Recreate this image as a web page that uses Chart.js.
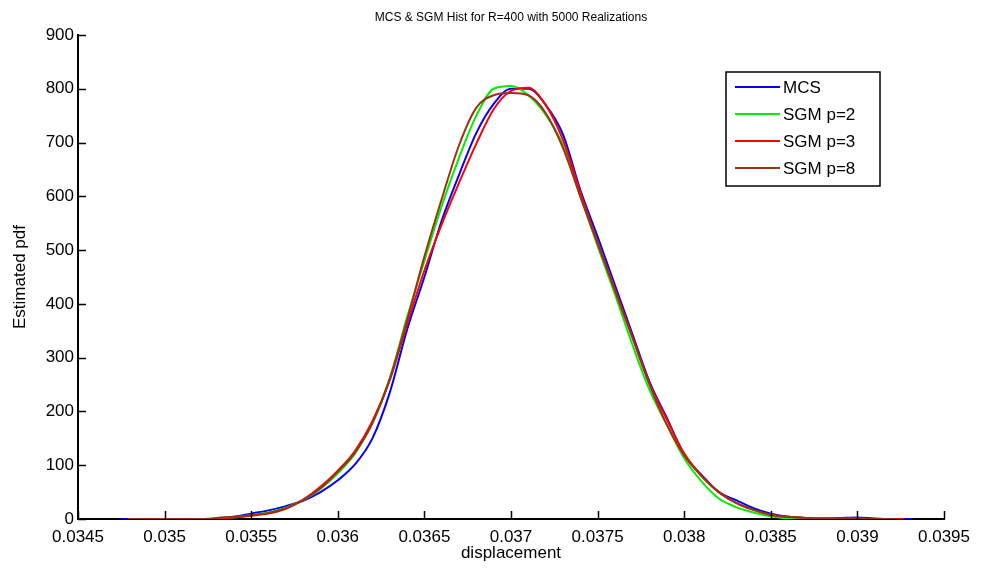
<!DOCTYPE html>
<html>
<head>
<meta charset="utf-8">
<script src="https://cdn.jsdelivr.net/npm/chart.js@4/dist/chart.umd.min.js"></script>
<style>
  html, body { margin: 0; padding: 0; background: #fff; }
  #wrap { width: 982px; height: 574px; }
</style>
</head>
<body>
<div id="wrap"><canvas id="pdfChart" width="982" height="574"></canvas></div>
<script>
// displacement grid (shared by all curves)
const displacement = [
  0.03475, 0.03479, 0.0350, 0.0352, 0.03527,
  0.0353, 0.0354, 0.0355, 0.0356, 0.0357, 0.0358, 0.0359, 0.0360, 0.0361, 0.0362,
  0.0363, 0.0364, 0.0365, 0.0366, 0.0367, 0.0368, 0.0369, 0.0370, 0.0371, 0.0372,
  0.0373, 0.0374, 0.0375, 0.0376, 0.0377, 0.0378, 0.0379, 0.0380, 0.0381, 0.0382,
  0.0383, 0.0384, 0.0385, 0.0386, 0.0387, 0.0388, 0.0389, 0.0390, 0.0391, 0.0392,
  0.03923, 0.03927, 0.03932
];

// estimated pdf per method (null = curve not drawn there)
const mcs = [
  0, 0, 0, 0, 0,
  1, 4, 10, 16, 24, 34, 50, 72, 102, 150,
  235, 352, 450, 555, 640, 718, 772, 800, 800, 770,
  715, 612, 525, 435, 345, 255, 188, 120, 82, 50,
  35, 20, 10, 4, 2, 1, 2, 3, 1, 0,
  0, 0, 0
];
const sgm2 = [
  null, null, null, null, null,
  0, 3, 7, 12, 21, 35, 56, 85, 122, 180,
  262, 375, 480, 582, 672, 750, 800, 805, 788, 752,
  695, 600, 508, 418, 325, 240, 175, 113, 70, 38,
  22, 12, 5, 1, 0, null, null, null, null, null,
  null, null, null
];
const sgm3 = [
  null, null, null, null, 0,
  1, 3, 6, 10, 19, 36, 60, 90, 127, 182,
  258, 362, 462, 548, 625, 698, 762, 796, 802, 770,
  705, 608, 515, 428, 340, 252, 185, 122, 80, 50,
  30, 17, 8, 4, 2, 1, 1, 1, 0, 0,
  0, 0, null
];
const sgm8 = [
  null, 0, 0, 0, 1,
  2, 4, 7, 11, 20, 35, 57, 88, 124, 178,
  260, 370, 488, 595, 695, 765, 788, 792, 788, 755,
  690, 600, 512, 425, 338, 250, 175, 118, 80, 50,
  30, 17, 8, 4, 2, 1, 1, 1, 0, 0,
  0, null, null
];

const xTicks = [0.0345, 0.035, 0.0355, 0.036, 0.0365, 0.037, 0.0375, 0.038, 0.0385, 0.039, 0.0395];
const yTicks = [0, 100, 200, 300, 400, 500, 600, 700, 800, 900];

const toPoints = (ys) => displacement
  .map((x, i) => ({ x: x, y: ys[i] }))
  .filter(p => p.y !== null);

const FONT = "'Liberation Sans', Arial, sans-serif";

// inward tick marks like the original figure
const innerTicks = {
  id: "innerTicks",
  afterDraw(chart) {
    const c = chart.ctx;
    const xs = chart.scales.x, ys = chart.scales.y;
    const area = chart.chartArea;
    c.save();
    c.strokeStyle = "#000";
    c.lineWidth = 1.5;
    c.beginPath();
    xTicks.forEach(v => {
      const px = Math.round(xs.getPixelForValue(v)) + 0.5;
      c.moveTo(px, area.bottom);
      c.lineTo(px, area.bottom - 8);
    });
    yTicks.forEach(v => {
      const py = Math.round(ys.getPixelForValue(v)) + 0.5;
      c.moveTo(area.left, py);
      c.lineTo(area.left + 8, py);
    });
    c.stroke();
    c.restore();
  }
};

// boxed legend inside the plot, top right
const boxLegend = {
  id: "boxLegend",
  afterDraw(chart) {
    const c = chart.ctx;
    const left = 726, top = 72, w = 154, h = 114;
    c.save();
    c.fillStyle = "#fff";
    c.fillRect(left, top, w, h);
    c.strokeStyle = "#000";
    c.lineWidth = 1.5;
    c.strokeRect(left, top, w, h);
    c.font = "17px " + FONT;
    c.textBaseline = "middle";
    c.fillStyle = "#000";
    chart.data.datasets.forEach((ds, i) => {
      const y = top + 15 + i * 27;
      c.strokeStyle = ds.borderColor;
      c.lineWidth = 2;
      c.beginPath();
      c.moveTo(left + 9, y);
      c.lineTo(left + 54, y);
      c.stroke();
      c.fillText(ds.label, left + 57, y + 1);
    });
    c.restore();
  }
};

const ctx = document.getElementById("pdfChart").getContext("2d");
const pdfChart = new Chart(ctx, {
  type: "line",
  data: {
    datasets: [
      { label: "MCS", data: toPoints(mcs), borderColor: "#0000ff", order: 3 },
      { label: "SGM p=2", data: toPoints(sgm2), borderColor: "#00ee00", order: 2 },
      { label: "SGM p=3", data: toPoints(sgm3), borderColor: "#ff0000", order: 1 },
      { label: "SGM p=8", data: toPoints(sgm8), borderColor: "#993311", order: 0 }
    ]
  },
  options: {
    responsive: false,
    animation: false,
    devicePixelRatio: 1,
    layout: { padding: { left: 0, right: 38, top: 0, bottom: 0 } },
    elements: {
      point: { radius: 0 },
      line: { borderWidth: 2, fill: false, cubicInterpolationMode: "monotone" }
    },
    plugins: {
      legend: { display: false },
      tooltip: { enabled: false },
      title: {
        display: true,
        text: "MCS & SGM Hist for R=400 with 5000 Realizations",
        fullSize: false,
        color: "#000",
        font: { family: FONT, size: 12, weight: "normal", lineHeight: 1.2 },
        padding: { top: 10, bottom: 10.6 }
      }
    },
    scales: {
      x: {
        type: "linear",
        min: 0.0345,
        max: 0.0395,
        afterFit(scale) { scale.height = 55; },
        afterBuildTicks(scale) { scale.ticks = xTicks.map(v => ({ value: v })); },
        grid: { display: false, drawOnChartArea: false, drawTicks: false },
        border: { display: true, color: "#000", width: 2 },
        ticks: {
          color: "#000",
          padding: 8,
          maxRotation: 0,
          autoSkip: false,
          font: { family: FONT, size: 17 },
          callback: (v) => String(parseFloat(Number(v).toFixed(4)))
        },
        title: {
          display: true,
          text: "displacement",
          color: "#000",
          font: { family: FONT, size: 17 },
          padding: { top: 0, bottom: 10 }
        }
      },
      y: {
        min: 0,
        max: 900,
        afterFit(scale) { scale.width = 78; },
        afterBuildTicks(scale) { scale.ticks = yTicks.map(v => ({ value: v })); },
        grid: { display: false, drawOnChartArea: false, drawTicks: false },
        border: { display: true, color: "#000", width: 2 },
        ticks: {
          color: "#000",
          padding: 4,
          autoSkip: false,
          font: { family: FONT, size: 17 }
        },
        title: {
          display: true,
          text: "Estimated pdf",
          color: "#000",
          font: { family: FONT, size: 17 },
          padding: { top: 10, bottom: 0 }
        }
      }
    }
  },
  plugins: [innerTicks, boxLegend]
});
</script>
</body>
</html>
